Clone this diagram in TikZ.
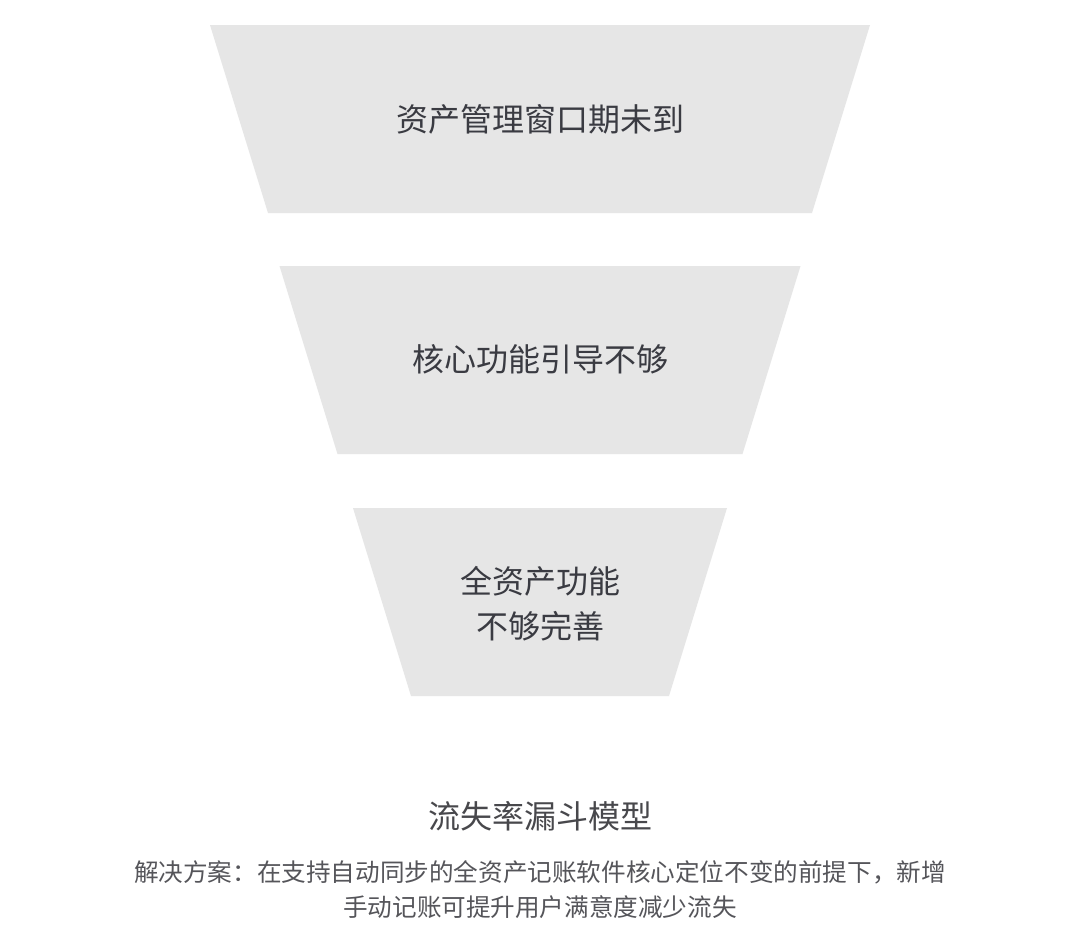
\documentclass[tikz,border=0pt]{standalone}
\usepackage{fontspec}
\setmainfont{Noto Sans CJK SC}
\usepackage{tikz}
\usetikzlibrary{positioning}
\definecolor{Layer}{HTML}{E6E6E6}
\definecolor{Ink}{HTML}{3A3B42}
\definecolor{Title}{HTML}{48484C}
\definecolor{Note}{HTML}{55555A}
\tikzset{
  layer/.style={fill=Layer,draw=none},
  reason/.style={align=center,text=Ink,font=\fontsize{32}{45}\selectfont,inner sep=0pt},
  caption/.style={align=center,text=Title,font=\fontsize{32}{40}\selectfont,inner sep=0pt},
  note/.style={align=center,text=Note,font=\fontsize{24.6}{35}\selectfont,inner sep=0pt},
}
\begin{document}
\begin{tikzpicture}[x=1pt,y=-1pt]
  \useasboundingbox[fill=white] (0,0) rectangle (1080,948);
  % funnel layers: half width at top / top edge
  \foreach \w/\t in {330/25,260.5/266,187/508}{
    \fill[layer] (540-\w,\t) -- (540+\w,\t) -- (540+\w-58,\t+188) -- (540-\w+58,\t+188) -- cycle;
  }
  \node[reason] (window) at (540,119) {资产管理窗口期未到};
  \node[reason] (guide) at (540,359) {核心功能引导不够};
  \node[reason] (assets) at (540,604) {全资产功能\\不够完善};
  \node[caption] (model) at (540,816) {流失率漏斗模型};
  \node[note] (plan) at (540,890) {解决方案：在支持自动同步的全资产记账软件核心定位不变的前提下，新增\\手动记账可提升用户满意度减少流失};
\end{tikzpicture}
\end{document}
